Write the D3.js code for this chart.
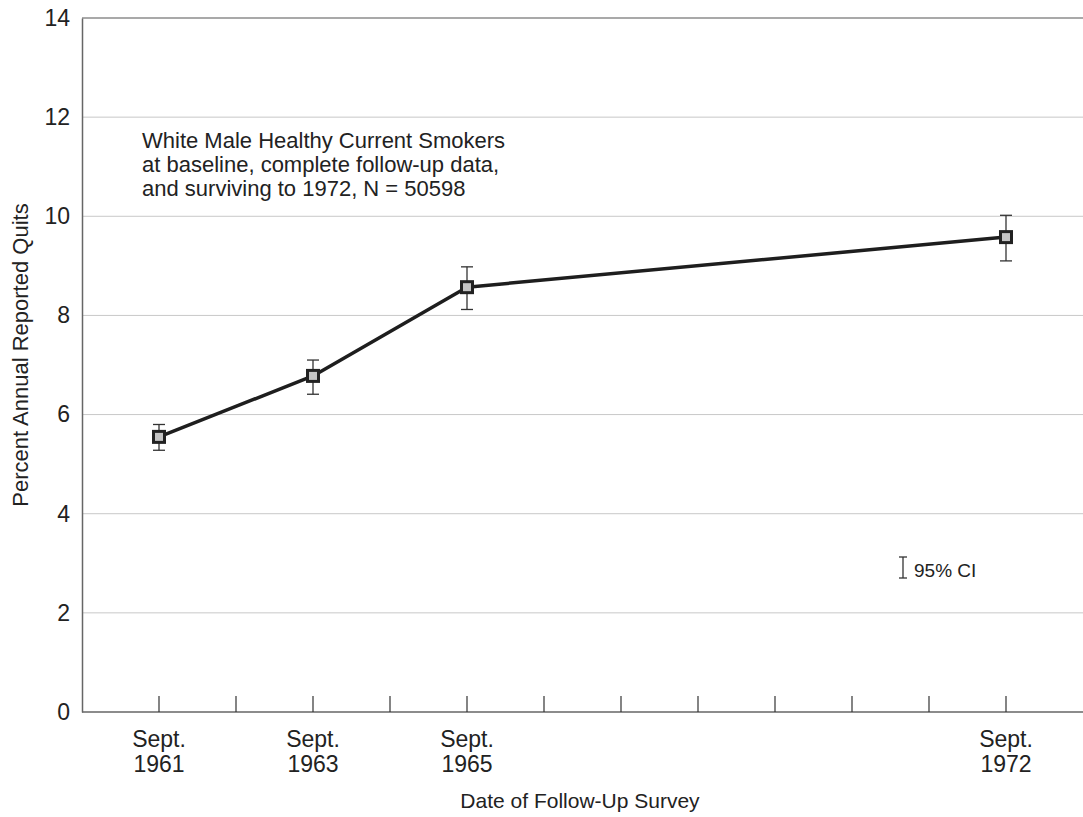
<!DOCTYPE html>
<html><head><meta charset="utf-8">
<script src="https://cdn.jsdelivr.net/npm/d3@7"></script>
<style>body{margin:0;background:#fff}svg{display:block;font-family:"Liberation Sans",Arial,Helvetica,sans-serif}</style>
</head><body>
<script>
const surveys = ["Sept.\n1961", "Sept.\n1963", "Sept.\n1965", "Sept.\n1972"];
const surveyPos = [0, 2, 4, 11];           // tick index positions on the axis
const quitPct = [5.55, 6.78, 8.57, 9.58];
const ciLow = [5.28, 6.41, 8.12, 9.10];
const ciHigh = [5.80, 7.10, 8.98, 10.02];
const yTicks = [0, 2, 4, 6, 8, 10, 12, 14];
const xTickIdx = [0,1,2,3,4,5,6,7,8,9,10,11];
const annotation = ["White Male Healthy Current Smokers", "at baseline, complete follow-up data,", "and surviving to 1972, N = 50598"];

const W = 1083, H = 817;
const FS = 23;
const svg = d3.select("body").append("svg").attr("width", W).attr("height", H);
const x = d3.scaleLinear().domain([-1, 12]).range([82, 1083]);
const y = d3.scaleLinear().domain([0, 14]).range([712, 18]);
const px = i => x(surveyPos[i]);

// gridlines
svg.append("g").selectAll("line").data(yTicks.filter(d => d > 0)).join("line")
  .attr("x1", x(-1)).attr("x2", W).attr("y1", d => y(d)).attr("y2", d => y(d))
  .attr("stroke", d => d === 14 ? "#555" : "#c8c8c8").attr("stroke-width", d => d === 14 ? 1.2 : 1);

// y axis
const ya = svg.append("g").attr("transform", `translate(${x(-1)},0)`)
  .call(d3.axisLeft(y).tickValues(yTicks).tickSize(0).tickPadding(12));
ya.select(".domain").attr("stroke", "#666").attr("stroke-width", 1.5);
ya.selectAll("text").attr("font-size", FS).attr("fill", "#222").attr("font-family", "Liberation Sans, Arial, sans-serif");

// x axis baseline + upward ticks
svg.append("line").attr("x1", x(-1)).attr("x2", W).attr("y1", y(0)).attr("y2", y(0))
  .attr("stroke", "#666").attr("stroke-width", 1.5);
svg.append("g").selectAll("line").data(xTickIdx).join("line")
  .attr("x1", d => x(d)).attr("x2", d => x(d)).attr("y1", y(0)).attr("y2", y(0) - 16)
  .attr("stroke", "#333").attr("stroke-width", 1.2);

// x labels
const xl = svg.append("g").selectAll("text").data(surveys).join("text")
  .attr("x", (d, i) => px(i))
  .attr("y", 747).attr("text-anchor", "middle").attr("font-size", FS).attr("fill", "#222");
xl.each(function(d) {
  const t = d3.select(this);
  d.split("\n").forEach((s, k) => t.append("tspan").attr("x", t.attr("x")).attr("dy", k ? 25 : 0).text(s));
});

// line
const pts = quitPct.map((v, i) => [px(i), y(v)]);
svg.append("path").attr("d", d3.line()(pts)).attr("fill", "none")
  .attr("stroke", "#1e1e1e").attr("stroke-width", 3.5).attr("stroke-linejoin", "round");

// error bars
const eb = svg.append("g").attr("stroke", "#333").attr("stroke-width", 1.3);
quitPct.forEach((v, i) => {
  const cx = px(i);
  eb.append("line").attr("x1", cx).attr("x2", cx).attr("y1", y(ciLow[i])).attr("y2", y(ciHigh[i]));
  eb.append("line").attr("x1", cx - 6).attr("x2", cx + 6).attr("y1", y(ciLow[i])).attr("y2", y(ciLow[i]));
  eb.append("line").attr("x1", cx - 6).attr("x2", cx + 6).attr("y1", y(ciHigh[i])).attr("y2", y(ciHigh[i]));
});

// markers
svg.append("g").selectAll("rect").data(quitPct).join("rect")
  .attr("x", (d, i) => px(i) - 5.5).attr("y", d => y(d) - 5.5).attr("width", 11).attr("height", 11)
  .attr("fill", "#c4c4c4").attr("stroke", "#222").attr("stroke-width", 3);

// CI legend
const lg = svg.append("g").attr("stroke", "#333").attr("stroke-width", 1.3);
lg.append("line").attr("x1", 903).attr("x2", 903).attr("y1", 557).attr("y2", 578);
lg.append("line").attr("x1", 899).attr("x2", 907).attr("y1", 557).attr("y2", 557);
lg.append("line").attr("x1", 899).attr("x2", 907).attr("y1", 578).attr("y2", 578);
svg.append("text").attr("x", 914).attr("y", 577).attr("font-size", 19).attr("fill", "#222").text("95% CI");

// annotation
svg.append("g").selectAll("text").data(annotation).join("text")
  .attr("x", 142).attr("y", (d, i) => 148 + i * 24).attr("font-size", 22).attr("fill", "#222").text(d => d);

// axis titles
svg.append("text").attr("x", 580).attr("y", 808).attr("text-anchor", "middle")
  .attr("font-size", 21).attr("fill", "#222").text("Date of Follow-Up Survey");
svg.append("text").attr("transform", `translate(28,355) rotate(-90)`).attr("text-anchor", "middle")
  .attr("font-size", 22).attr("fill", "#222").text("Percent Annual Reported Quits");
</script>
</body></html>
